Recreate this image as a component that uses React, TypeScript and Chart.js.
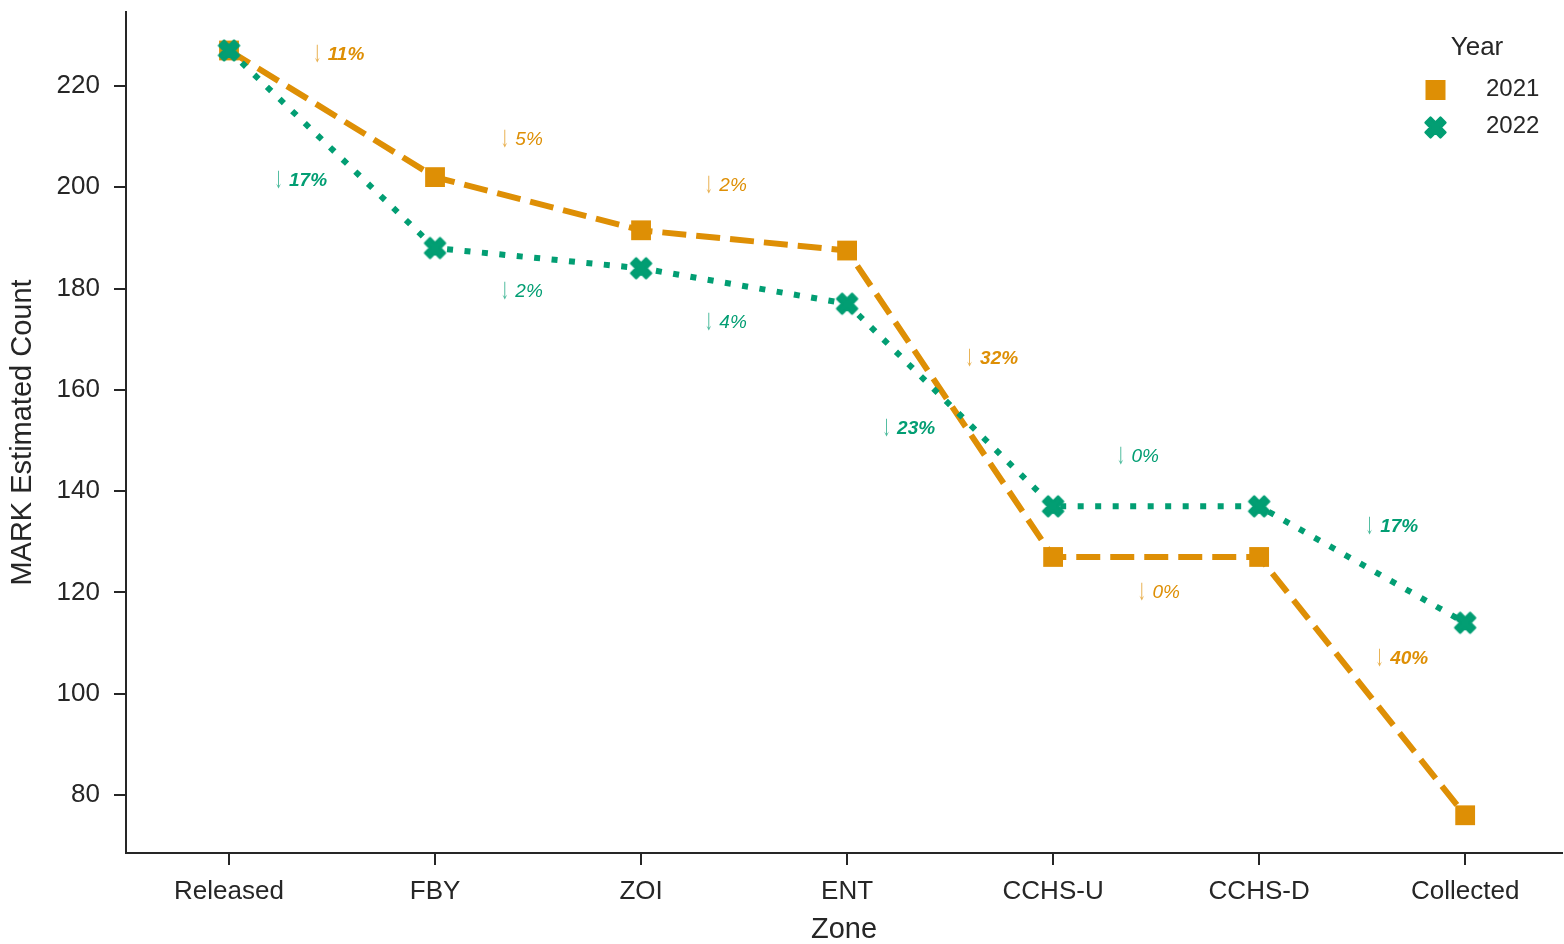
import React, { useEffect, useRef } from "react";
import { Chart, registerables } from "chart.js";

Chart.register(...registerables);

// ---------- data ----------
const zones = ["Released", "FBY", "ZOI", "ENT", "CCHS-U", "CCHS-D", "Collected"];
const years = ["2021", "2022"];
const count2021 = [227, 202, 191.5, 187.5, 127, 127, 76];
const count2022 = [227, 188, 184, 177, 137, 137, 114];
const drop2021 = ["11%", "5%", "2%", "32%", "0%", "40%"];
const drop2022 = ["17%", "2%", "4%", "23%", "0%", "17%"];
const yTicks = [80, 100, 120, 140, 160, 180, 200, 220];

// ---------- style ----------
const ORANGE = "#DE8F05";
const GREEN = "#029E73";
const TEXT = "#262626";
const AXIS = "#262626";
const FONT = '"Liberation Sans", Arial, sans-serif';

// label offsets (px) relative to each segment's midpoint
const off2021 = [[7, -59], [-16, -64], [-18, -55], [42, -45], [3, 36], [40, -27]];
const off2022 = [[-31, 32], [-16, 34], [-18, 37], [-41, 24], [-18, -50], [30, -38]];

function makeX(size: number, color: string): HTMLCanvasElement {
  const c = document.createElement("canvas");
  const dim = Math.ceil(size + 6);
  c.width = dim;
  c.height = dim;
  const g = c.getContext("2d")!;
  g.translate(dim / 2, dim / 2);
  g.rotate(Math.PI / 4);
  const u = size / 6;
  const pts = [[-1, -3], [1, -3], [1, -1], [3, -1], [3, 1], [1, 1], [1, 3], [-1, 3], [-1, 1], [-3, 1], [-3, -1], [-1, -1]];
  g.beginPath();
  pts.forEach(([px, py], i) => (i ? g.lineTo(px * u, py * u) : g.moveTo(px * u, py * u)));
  g.closePath();
  g.fillStyle = color;
  g.fill();
  g.lineWidth = 2.5;
  g.lineJoin = "round";
  g.strokeStyle = color;
  g.stroke();
  return c;
}

function zeroPad(s: any) {
  s.paddingLeft = 0;
  s.paddingRight = 0;
  s.paddingTop = 0;
  s.paddingBottom = 0;
}

export default function App() {
  const ref = useRef<HTMLCanvasElement | null>(null);

  useEffect(() => {
    document.body.style.margin = "0";
    const canvas = ref.current!;
    const xImg = makeX(21, GREEN);

    const series = [
      { vals: count2021, labels: drop2021, offs: off2021, color: ORANGE },
      { vals: count2022, labels: drop2022, offs: off2022, color: GREEN },
    ];

    const dropLabels = {
      id: "dropLabels",
      afterDatasetsDraw(chart: any) {
        const { ctx, scales } = chart;
        const x = scales.x, y = scales.y;
        ctx.save();
        series.forEach((s) => {
          s.labels.forEach((lab, i) => {
            const mx = x.getPixelForValue(i + 0.5);
            const my = (y.getPixelForValue(s.vals[i]) + y.getPixelForValue(s.vals[i + 1])) / 2;
            const cx = mx + s.offs[i][0];
            const cy = my + s.offs[i][1];
            const bold = parseFloat(lab) > 10;
            const arrowFont = `24px "DejaVu Serif", serif`;
            const pctFont = `italic ${bold ? "bold " : ""}19px ${FONT}`;
            const aw = 14;
            ctx.font = pctFont;
            const pw = ctx.measureText(lab).width;
            const left = cx - (aw + pw) / 2;
            ctx.textBaseline = "middle";
            ctx.textAlign = "left";
            ctx.fillStyle = s.color;
            ctx.globalAlpha = 0.7;
            ctx.font = arrowFont;
            ctx.save();
            ctx.translate(left + 3.5, cy);
            ctx.scale(0.5, 1);
            ctx.textAlign = "center";
            ctx.fillText("↓", 0, 1);
            ctx.restore();
            ctx.globalAlpha = 1;
            ctx.font = pctFont;
            ctx.fillText(lab, left + aw, cy);
          });
        });
        ctx.restore();
      },
    };

    const legendPlugin = {
      id: "customLegend",
      afterDraw(chart: any) {
        const { ctx } = chart;
        ctx.save();
        ctx.fillStyle = TEXT;
        ctx.textBaseline = "middle";
        ctx.textAlign = "center";
        ctx.font = `26px ${FONT}`;
        ctx.fillText("Year", 1477, 48);
        ctx.fillStyle = ORANGE;
        ctx.fillRect(1435.5 - 10, 90 - 10, 20, 20);
        ctx.drawImage(xImg, 1435.5 - xImg.width / 2, 127.5 - xImg.height / 2);
        ctx.fillStyle = TEXT;
        ctx.textAlign = "left";
        ctx.font = `24px ${FONT}`;
        ctx.fillText(years[0], 1486, 89);
        ctx.fillText(years[1], 1486, 126);
        ctx.restore();
      },
    };

    const chart = new Chart(canvas, {
      type: "line",
      data: {
        datasets: [
          {
            label: years[0],
            data: zones.map((_, i) => ({ x: i, y: count2021[i] })),
            borderColor: ORANGE,
            backgroundColor: ORANGE,
            borderWidth: 6,
            borderDash: [24, 10],
            pointStyle: "rect",
            pointRadius: 14,
            pointBorderWidth: 0,
            pointBackgroundColor: ORANGE,
            tension: 0,
            order: 2,
            clip: false,
          },
          {
            label: years[1],
            data: zones.map((_, i) => ({ x: i, y: count2022[i] })),
            borderColor: GREEN,
            backgroundColor: GREEN,
            borderWidth: 6,
            borderDash: [6, 11.5],
            pointStyle: xImg as any,
            pointRadius: 11,
            pointBorderWidth: 0,
            tension: 0,
            order: 1,
            clip: false,
          },
        ],
      },
      options: {
        animation: false,
        responsive: false,
        maintainAspectRatio: false,
        layout: { autoPadding: false, padding: { top: 12, right: 2, left: 0, bottom: 0 } },
        plugins: { legend: { display: false }, tooltip: { enabled: false } },
        scales: {
          x: {
            type: "linear",
            min: -0.5,
            max: 6.47,
            afterBuildTicks: (s: any) => {
              s.ticks = zones.map((_, i) => ({ value: i }));
            },
            afterFit: (s: any) => {
              s.height = 91;
              zeroPad(s);
            },
            ticks: {
              callback: (v: any) => zones[v as number],
              font: { family: FONT, size: 26 },
              color: TEXT,
              padding: 11,
              maxRotation: 0,
              autoSkip: false,
            },
            grid: { display: true, drawOnChartArea: false, drawTicks: true, tickLength: 12, color: AXIS, lineWidth: 2 },
            border: { display: true, color: AXIS, width: 2 },
            title: { display: true, text: "Zone", font: { family: FONT, size: 29 }, color: TEXT, padding: { top: 0, bottom: -3 } },
          },
          y: {
            type: "linear",
            min: 68.55,
            max: 234.6,
            afterBuildTicks: (s: any) => {
              s.ticks = yTicks.map((v) => ({ value: v }));
            },
            afterFit: (s: any) => {
              s.width = 126;
              zeroPad(s);
            },
            ticks: { font: { family: FONT, size: 26 }, color: TEXT, padding: 14 },
            grid: { display: true, drawOnChartArea: false, drawTicks: true, tickLength: 12, color: AXIS, lineWidth: 2 },
            border: { display: true, color: AXIS, width: 2 },
            title: { display: true, text: "MARK Estimated Count", font: { family: FONT, size: 29 }, color: TEXT, padding: { top: 6, bottom: 0 } },
          },
        },
      },
      plugins: [dropLabels, legendPlugin],
    });

    return () => chart.destroy();
  }, []);

  return (
    <div style={{ width: 1564, height: 944, background: "#fff" }}>
      <canvas ref={ref} width={1564} height={944} style={{ display: "block" }} />
    </div>
  );
}
